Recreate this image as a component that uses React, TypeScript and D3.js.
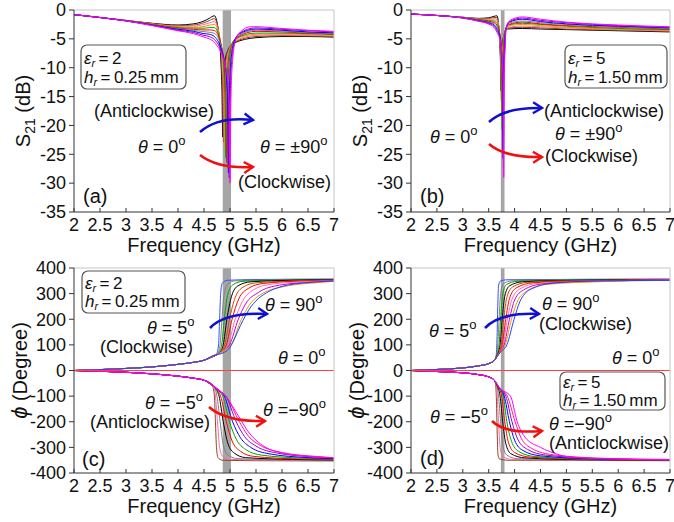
import React from "react";
import * as d3 from "d3";

type Pt = [number, number];

const freqTicks = [2, 2.5, 3, 3.5, 4, 4.5, 5, 5.5, 6, 6.5, 7];
const s21Ticks = [0, -5, -10, -15, -20, -25, -30, -35];
const phaseTicks = [400, 300, 200, 100, 0, -100, -200, -300, -400];

// theta = 0,10,...,90 deg
const s21Colors = ["#000000", "#8b4513", "#ff69b4", "#ff8c00", "#00a000", "#ff0000", "#808080", "#0000ff", "#9400d3", "#ff00ff"];
// theta = 5 ... 90 (clockwise, upper family)
const upColors = ["#3050ff", "#808080", "#00a000", "#000000", "#c05000", "#ff0000", "#ff69b4", "#cc00cc", "#e0a000", "#2040ff"];
// theta = -5 ... -90 (anticlockwise, lower family)
const lowColors = ["#8b4513", "#ff69b4", "#808080", "#000000", "#ff0000", "#00a000", "#0000ff", "#9400d3", "#ff1493", "#ff00ff"];

// (a) S21, er=2, hr=0.25mm
const s21A: Pt[][] = [
  [[2,-0.8],[2.5,-1.3],[3,-1.8],[3.5,-2.3],[4,-2.6],[4.3,-2.4],[4.5,-1.9],[4.6,-1.45],[4.7,-1.0],[4.79,-4.5],[4.825,-9],[4.845,-14],[4.86,-22],[4.875,-14],[4.9,-9],[4.96,-7],[5.06,-5.8],[5.5,-4.8],[6,-4.6],[6.5,-4.6],[7,-4.7]],
  [[2,-0.8],[2.5,-1.3],[3,-1.81],[3.5,-2.35],[4,-2.7],[4.3,-2.6],[4.5,-2.2],[4.6,-1.85],[4.7,-1.5],[4.805,-5.2],[4.84,-9.4],[4.86,-14.3],[4.875,-22.9],[4.89,-14.3],[4.915,-9.1],[4.975,-6.8],[5.075,-5.6],[5.5,-4.6],[6,-4.45],[6.5,-4.5],[7,-4.6]],
  [[2,-0.8],[2.5,-1.3],[3,-1.82],[3.5,-2.4],[4,-2.8],[4.3,-2.8],[4.5,-2.5],[4.6,-2.25],[4.7,-2.0],[4.82,-5.8],[4.855,-9.9],[4.875,-14.7],[4.89,-23.8],[4.905,-14.7],[4.93,-9.2],[4.99,-6.7],[5.09,-5.4],[5.5,-4.4],[6,-4.3],[6.5,-4.35],[7,-4.5]],
  [[2,-0.8],[2.5,-1.3],[3,-1.83],[3.5,-2.45],[4,-2.9],[4.3,-3.0],[4.5,-2.85],[4.6,-2.65],[4.7,-2.5],[4.835,-6.5],[4.87,-10.3],[4.89,-15],[4.905,-24.7],[4.92,-15],[4.945,-9.3],[5.005,-6.5],[5.105,-5.1],[5.5,-4.2],[6,-4.15],[6.5,-4.25],[7,-4.4]],
  [[2,-0.8],[2.5,-1.3],[3,-1.84],[3.5,-2.5],[4,-3.05],[4.3,-3.15],[4.5,-3.15],[4.6,-3.05],[4.7,-3.05],[4.85,-7.2],[4.885,-10.8],[4.905,-15.3],[4.92,-25.6],[4.935,-15.3],[4.96,-9.4],[5.02,-6.3],[5.12,-4.9],[5.5,-4.0],[6,-4.0],[6.5,-4.1],[7,-4.25]],
  [[2,-0.8],[2.5,-1.3],[3,-1.85],[3.5,-2.5],[4,-3.15],[4.3,-3.35],[4.5,-3.45],[4.6,-3.45],[4.7,-3.55],[4.87,-7.8],[4.905,-11.2],[4.925,-15.7],[4.94,-26.4],[4.955,-15.7],[4.98,-9.6],[5.04,-6.2],[5.14,-4.7],[5.5,-3.7],[6,-3.8],[6.5,-4.0],[7,-4.15]],
  [[2,-0.8],[2.5,-1.3],[3,-1.87],[3.5,-2.55],[4,-3.25],[4.3,-3.55],[4.5,-3.75],[4.6,-3.85],[4.7,-4.05],[4.885,-8.5],[4.92,-11.7],[4.94,-16],[4.955,-27.3],[4.97,-16],[4.995,-9.7],[5.055,-6],[5.155,-4.5],[5.5,-3.5],[6,-3.65],[6.5,-3.9],[7,-4.05]],
  [[2,-0.8],[2.5,-1.3],[3,-1.88],[3.5,-2.6],[4,-3.35],[4.3,-3.7],[4.5,-4.1],[4.6,-4.2],[4.7,-4.6],[4.9,-9.2],[4.935,-12.1],[4.955,-16.3],[4.97,-28.2],[4.985,-16.3],[5.01,-9.8],[5.07,-5.8],[5.17,-4.2],[5.5,-3.3],[6,-3.5],[6.5,-3.8],[7,-3.95]],
  [[2,-0.8],[2.5,-1.3],[3,-1.89],[3.5,-2.65],[4,-3.5],[4.3,-3.9],[4.5,-4.4],[4.6,-4.6],[4.7,-5.1],[4.915,-9.8],[4.95,-12.6],[4.97,-16.7],[4.985,-29.1],[5.0,-16.7],[5.025,-9.9],[5.085,-5.7],[5.185,-4.0],[5.5,-3.1],[6,-3.35],[6.5,-3.6],[7,-3.8]],
  [[2,-0.8],[2.5,-1.3],[3,-1.9],[3.5,-2.7],[4,-3.6],[4.3,-4.1],[4.5,-4.7],[4.6,-5.0],[4.7,-5.6],[4.93,-10.5],[4.965,-13],[4.985,-17],[5.0,-30],[5.015,-17],[5.04,-10],[5.1,-5.5],[5.2,-3.8],[5.4,-2.9],[5.5,-2.9],[6,-3.2],[6.5,-3.5],[7,-3.7]],
];

// (b) S21, er=5, hr=1.50mm
const s21B: Pt[][] = [
  [[2,-0.7],[2.5,-0.95],[3,-1.25],[3.3,-1.45],[3.5,-1.35],[3.6,-1.1],[3.66,-1.0],[3.69,-2.5],[3.715,-6],[3.73,-10],[3.74,-14],[3.75,-9],[3.765,-6],[3.79,-4.5],[3.86,-3.3],[4.15,-3.2],[4.5,-3.3],[5,-3.4],[6,-3.6],[7,-3.8]],
  [[2,-0.7],[2.5,-0.95],[3,-1.27],[3.3,-1.5],[3.5,-1.47],[3.6,-1.31],[3.66,-1.32],[3.695,-2.9],[3.72,-6.3],[3.735,-10.2],[3.745,-15.7],[3.755,-9.2],[3.77,-6.1],[3.795,-4.3],[3.865,-3.1],[4.15,-3.0],[4.5,-3.1],[5,-3.3],[6,-3.5],[7,-3.7]],
  [[2,-0.7],[2.5,-0.95],[3,-1.28],[3.3,-1.56],[3.5,-1.59],[3.6,-1.52],[3.66,-1.64],[3.7,-3.3],[3.725,-6.7],[3.74,-10.4],[3.75,-17.3],[3.76,-9.4],[3.775,-6.2],[3.8,-4.2],[3.87,-3.0],[4.15,-2.8],[4.5,-2.9],[5,-3.1],[6,-3.4],[7,-3.6]],
  [[2,-0.7],[2.5,-0.95],[3,-1.3],[3.3,-1.62],[3.5,-1.72],[3.6,-1.73],[3.66,-1.97],[3.705,-3.7],[3.73,-7],[3.745,-10.7],[3.755,-19],[3.765,-9.7],[3.78,-6.3],[3.805,-4.0],[3.875,-2.8],[4.15,-2.5],[4.5,-2.7],[5,-3.0],[6,-3.3],[7,-3.5]],
  [[2,-0.7],[2.5,-0.95],[3,-1.32],[3.3,-1.67],[3.5,-1.84],[3.6,-1.94],[3.66,-2.29],[3.71,-4.1],[3.735,-7.3],[3.75,-10.9],[3.76,-20.7],[3.77,-9.9],[3.785,-6.4],[3.81,-3.8],[3.88,-2.6],[4.15,-2.3],[4.5,-2.5],[5,-2.8],[6,-3.2],[7,-3.4]],
  [[2,-0.7],[2.5,-0.95],[3,-1.33],[3.3,-1.73],[3.5,-1.96],[3.6,-2.16],[3.66,-2.61],[3.72,-4.4],[3.745,-7.7],[3.76,-11.1],[3.77,-22.3],[3.78,-10.1],[3.795,-6.6],[3.82,-3.7],[3.89,-2.5],[4.15,-2.1],[4.5,-2.4],[5,-2.7],[6,-3.0],[7,-3.3]],
  [[2,-0.7],[2.5,-0.95],[3,-1.35],[3.3,-1.78],[3.5,-2.08],[3.6,-2.37],[3.66,-2.93],[3.725,-4.8],[3.75,-8],[3.765,-11.3],[3.775,-24],[3.785,-10.3],[3.8,-6.7],[3.825,-3.5],[3.895,-2.3],[4.15,-1.9],[4.5,-2.2],[5,-2.5],[6,-2.9],[7,-3.2]],
  [[2,-0.7],[2.5,-0.95],[3,-1.37],[3.3,-1.84],[3.5,-2.2],[3.6,-2.58],[3.66,-3.26],[3.73,-5.2],[3.755,-8.3],[3.77,-11.6],[3.78,-25.7],[3.79,-10.6],[3.805,-6.8],[3.83,-3.3],[3.9,-2.1],[4.15,-1.6],[4.5,-2.0],[5,-2.4],[6,-2.8],[7,-3.1]],
  [[2,-0.7],[2.5,-0.95],[3,-1.38],[3.3,-1.89],[3.5,-2.33],[3.6,-2.79],[3.66,-3.58],[3.735,-5.6],[3.76,-8.7],[3.775,-11.8],[3.785,-27.3],[3.795,-10.8],[3.81,-6.9],[3.835,-3.2],[3.905,-2.0],[4.15,-1.4],[4.5,-1.8],[5,-2.2],[6,-2.7],[7,-3.0]],
  [[2,-0.7],[2.5,-0.95],[3,-1.4],[3.3,-1.95],[3.5,-2.45],[3.6,-3.0],[3.66,-3.9],[3.74,-6],[3.765,-9],[3.78,-12],[3.79,-29],[3.8,-11],[3.815,-7],[3.84,-3],[3.91,-1.8],[4.15,-1.2],[4.5,-1.6],[5,-2.1],[6,-2.6],[7,-2.9]],
];

// (c) phase, er=2
const preCUp: Pt[] = [[2,0],[3,8],[3.5,14],[4,24],[4.3,32],[4.5,40]];
const phaseCUp: Pt[][] = [
  [...preCUp,[4.65,52],[4.74,64],[4.78,100],[4.8,200],[4.82,300],[4.85,340],[4.95,352],[5.5,355],[7,357]],
  [...preCUp,[4.65,52],[4.76,66],[4.81,100],[4.845,200],[4.89,300],[4.96,338],[5.1,350],[6,354],[7,356]],
  [...preCUp,[4.65,52],[4.78,68],[4.84,100],[4.89,200],[4.96,300],[5.06,335],[5.25,348],[6,353],[7,355]],
  [...preCUp,[4.65,53],[4.8,70],[4.87,100],[4.94,200],[5.03,290],[5.15,330],[5.4,346],[6.2,352],[7,354]],
  [...preCUp,[4.65,53],[4.82,72],[4.9,100],[4.99,200],[5.1,285],[5.25,325],[5.5,342],[6.3,350],[7,353]],
  [...preCUp,[4.65,54],[4.84,74],[4.93,100],[5.04,200],[5.17,280],[5.35,320],[5.65,340],[6.4,349],[7,352]],
  [...preCUp,[4.65,54],[4.86,76],[4.96,100],[5.1,200],[5.24,270],[5.45,315],[5.8,337],[6.5,347],[7,351]],
  [...preCUp,[4.65,55],[4.88,78],[4.99,100],[5.16,200],[5.3,260],[5.55,305],[5.95,333],[6.6,345],[7,350]],
  [...preCUp,[4.65,55],[4.9,80],[5.02,100],[5.22,200],[5.37,255],[5.62,300],[6.1,330],[6.7,343],[7,348]],
  [...preCUp,[4.65,56],[4.9,72],[5.0,90],[5.1,130],[5.2,175],[5.3,215],[5.4,248],[5.5,272],[5.7,303],[6.0,328],[6.5,343],[7,349]],
];
const preCLow: Pt[] = [[2,0],[3,-7],[3.5,-13],[4,-22],[4.3,-30],[4.5,-38]];
const phaseCLow: Pt[][] = [
  [...preCLow,[4.6,-46],[4.66,-58],[4.7,-100],[4.72,-200],[4.74,-300],[4.77,-340],[4.85,-350],[5.5,-352],[7,-353]],
  [...preCLow,[4.6,-46],[4.68,-62],[4.72,-100],[4.76,-200],[4.8,-300],[4.86,-335],[5.0,-347],[6,-350],[7,-351]],
  [...preCLow,[4.6,-47],[4.7,-66],[4.75,-100],[4.81,-200],[4.87,-290],[4.96,-330],[5.15,-344],[6,-349],[7,-350]],
  [...preCLow,[4.6,-48],[4.72,-70],[4.79,-100],[4.87,-200],[4.96,-285],[5.08,-322],[5.3,-340],[6.2,-347],[7,-349]],
  [...preCLow,[4.6,-48],[4.74,-74],[4.82,-100],[4.93,-200],[5.04,-275],[5.2,-315],[5.45,-335],[6.3,-345],[7,-347]],
  [...preCLow,[4.6,-49],[4.76,-76],[4.86,-100],[4.99,-200],[5.12,-268],[5.3,-308],[5.6,-330],[6.4,-342],[7,-345]],
  [...preCLow,[4.6,-49],[4.78,-78],[4.89,-100],[5.05,-200],[5.2,-262],[5.4,-300],[5.75,-325],[6.5,-340],[7,-344]],
  [...preCLow,[4.6,-50],[4.8,-80],[4.92,-100],[5.12,-200],[5.28,-258],[5.5,-295],[5.9,-322],[6.6,-337],[7,-342]],
  [...preCLow,[4.6,-50],[4.8,-80],[4.93,-103],[5.18,-200],[5.35,-255],[5.58,-292],[6.0,-320],[6.7,-336],[7,-341]],
  [...preCLow,[4.6,-50],[4.7,-62],[4.8,-78],[4.94,-105],[5.05,-140],[5.13,-167],[5.23,-200],[5.33,-233],[5.5,-272],[5.67,-298],[6.0,-322],[6.5,-335],[7,-340]],
];

// (d) phase, er=5
const preDUp: Pt[] = [[2,0],[2.5,4],[3,10],[3.3,18],[3.5,27],[3.6,38]];
const phaseDUp: Pt[][] = [
  [...preDUp,[3.64,52],[3.66,120],[3.675,250],[3.69,330],[3.72,348],[3.85,354],[7,357]],
  [...preDUp,[3.64,54],[3.675,100],[3.7,200],[3.73,300],[3.78,338],[3.95,350],[5,354],[7,356]],
  [...preDUp,[3.65,56],[3.7,100],[3.73,200],[3.77,295],[3.84,335],[4.05,348],[5,353],[7,355]],
  [...preDUp,[3.66,58],[3.72,100],[3.76,200],[3.81,290],[3.9,330],[4.15,346],[5.2,352],[7,355]],
  [...preDUp,[3.67,60],[3.74,100],[3.79,200],[3.85,285],[3.96,326],[4.25,344],[5.3,351],[7,354]],
  [...preDUp,[3.68,62],[3.76,100],[3.83,200],[3.9,280],[4.03,322],[4.35,342],[5.4,350],[7,354]],
  [...preDUp,[3.69,64],[3.78,100],[3.86,200],[3.95,278],[4.1,318],[4.45,340],[5.5,349],[7,353]],
  [...preDUp,[3.7,66],[3.8,100],[3.9,200],[4.0,275],[4.17,314],[4.55,338],[5.6,348],[7,353]],
  [...preDUp,[3.71,68],[3.82,100],[3.94,200],[4.06,272],[4.24,310],[4.62,336],[5.7,347],[7,352]],
  [...preDUp,[3.72,70],[3.85,100],[3.99,200],[4.1,268],[4.2,300],[4.4,325],[4.7,340],[5.5,349],[7,352]],
];
const preDLow: Pt[] = [[2,0],[2.5,-4],[3,-9],[3.3,-16],[3.5,-25],[3.6,-36]];
const phaseDLow: Pt[][] = [
  [...preDLow,[3.63,-50],[3.65,-120],[3.665,-250],[3.68,-330],[3.71,-345],[3.85,-350],[7,-352]],
  [...preDLow,[3.64,-52],[3.665,-100],[3.69,-200],[3.72,-300],[3.77,-335],[3.95,-347],[5,-350],[7,-351]],
  [...preDLow,[3.65,-55],[3.69,-100],[3.73,-200],[3.77,-290],[3.85,-330],[4.05,-344],[5.2,-349],[7,-350]],
  [...preDLow,[3.66,-58],[3.72,-100],[3.77,-200],[3.83,-285],[3.93,-325],[4.2,-341],[5.3,-348],[7,-350]],
  [...preDLow,[3.67,-60],[3.75,-100],[3.81,-200],[3.88,-280],[4.0,-320],[4.3,-338],[5.4,-347],[7,-349]],
  [...preDLow,[3.68,-62],[3.78,-100],[3.85,-200],[3.94,-276],[4.08,-316],[4.4,-336],[5.5,-346],[7,-349]],
  [...preDLow,[3.69,-64],[3.8,-100],[3.9,-200],[4.0,-272],[4.16,-312],[4.5,-333],[5.6,-345],[7,-348]],
  [...preDLow,[3.7,-66],[3.83,-100],[3.95,-200],[4.06,-268],[4.25,-308],[4.6,-330],[5.7,-344],[7,-348]],
  [...preDLow,[3.71,-68],[3.86,-100],[4.01,-200],[4.13,-265],[4.33,-304],[4.75,-329],[5.8,-343],[7,-347]],
  [...preDLow,[3.72,-70],[3.92,-100],[4.05,-200],[4.2,-260],[4.5,-300],[4.8,-325],[5.07,-338],[6,-346],[7,-349]],
];

const zeroLine: Pt[] = [[2, 0], [7, 0]];
const bandA: [number, number] = [4.86, 5.02];
const bandB: [number, number] = [3.735, 3.805];

const FONT = "'Liberation Sans', Arial, Helvetica, sans-serif";

type Series = { pts: Pt[]; color: string };

function Panel(props: {
  id: string; left: number; right: number; top: number; bottom: number;
  yDomain: [number, number]; yTicks: number[]; series: Series[]; band: [number, number];
  kind: "s21" | "phase";
}) {
  const { id, left, right, top, bottom, yDomain, yTicks, series, band, kind } = props;
  const x = d3.scaleLinear().domain([2, 7]).range([left, right]);
  const y = d3.scaleLinear().domain(yDomain).range([bottom, top]);
  const line = d3.line<Pt>().x((d) => x(d[0])).y((d) => y(d[1])).curve(d3.curveMonotoneX);
  const cy = (top + bottom) / 2;
  return (
    <g>
      <defs>
        <clipPath id={`clip-${id}`}>
          <rect x={left} y={top} width={right - left} height={bottom - top} />
        </clipPath>
      </defs>
      <rect x={x(band[0])} y={top} width={x(band[1]) - x(band[0])} height={bottom - top} fill="#a5a5a5" />
      <g clipPath={`url(#clip-${id})`}>
        {series.map((s, i) => (
          <path key={i} d={line(s.pts) || ""} fill="none" stroke={s.color} strokeWidth={1} />
        ))}
      </g>
      <line x1={left} x2={right} y1={top} y2={top} stroke="#c4c4c4" strokeWidth={1} />
      <line x1={right} x2={right} y1={top} y2={bottom} stroke="#c4c4c4" strokeWidth={1} />
      <line x1={left} x2={left} y1={top} y2={bottom} stroke="#333" strokeWidth={1} />
      <line x1={left} x2={right} y1={bottom} y2={bottom} stroke="#333" strokeWidth={1} />
      {yTicks.map((t) => (
        <g key={t}>
          <line x1={left - 5} x2={left} y1={y(t)} y2={y(t)} stroke="#333" />
          <text x={left - 8} y={y(t)} dy="0.35em" textAnchor="end" fontSize={18} fontFamily={FONT} fill="#111">
            {t}
          </text>
        </g>
      ))}
      {freqTicks.map((t) => (
        <g key={t}>
          <line x1={x(t)} x2={x(t)} y1={bottom} y2={bottom - 4} stroke="#333" />
          <text x={x(t)} y={bottom + 19} textAnchor="middle" fontSize={18} fontFamily={FONT} fill="#111">
            {t}
          </text>
        </g>
      ))}
      <text x={(left + right) / 2} y={bottom + 40} textAnchor="middle" fontSize={20} fontFamily={FONT} fill="#111">
        Frequency (GHz)
      </text>
      {kind === "s21" ? (
        <text transform={`translate(${left - 44},${cy}) rotate(-90)`} textAnchor="middle" fontSize={20} fontFamily={FONT} fill="#111">
          S<tspan dy={5} fontSize={14}>21</tspan>
          <tspan dy={-5}> (dB)</tspan>
        </text>
      ) : (
        <text transform={`translate(${left - 47},${cy}) rotate(-90)`} textAnchor="middle" fontSize={20} fontFamily={FONT} fill="#111">
          <tspan fontStyle="italic" fontSize={22}>ϕ</tspan> (Degree)
        </text>
      )}
    </g>
  );
}

function Th(props: { x: number; y: number; val: string; eq?: string }) {
  const { x, y, val, eq = " = " } = props;
  return (
    <text x={x} y={y} fontSize={18} fontFamily={FONT} fill="#111" style={{ whiteSpace: "pre" }}>
      <tspan fontStyle="italic">θ</tspan>
      {eq + val}
      <tspan dy={-8} fontSize={13}>o</tspan>
    </text>
  );
}

function T(props: { x: number; y: number; children: React.ReactNode; size?: number }) {
  return (
    <text x={props.x} y={props.y} fontSize={props.size || 18} fontFamily={FONT} fill="#111">
      {props.children}
    </text>
  );
}

function ParamBox(props: { x: number; y: number; w: number; h: number; eps: string; hr: string; b1: number; b2: number }) {
  const { x, y, w, h, eps, hr, b1, b2 } = props;
  return (
    <g>
      <rect x={x} y={y} width={w} height={h} rx={6} fill="#fff" stroke="#555" strokeWidth={1.2} />
      <text x={x + 3} y={y + b1} fontSize={17} fontFamily={FONT} fill="#111">
        <tspan fontStyle="italic">ε</tspan>
        <tspan fontStyle="italic" fontSize={11} dy={3}>r</tspan>
        <tspan dy={-3}>{"\u2009=\u2009" + eps}</tspan>
      </text>
      <text x={x + 3} y={y + b2} fontSize={17} fontFamily={FONT} fill="#111">
        <tspan fontStyle="italic">h</tspan>
        <tspan fontStyle="italic" fontSize={11} dy={3}>r</tspan>
        <tspan dy={-3}>{"\u2009=\u2009" + hr + "\u2009mm"}</tspan>
      </text>
    </g>
  );
}

function Arrow(props: { d: string; color: string; id: string }) {
  return <path d={props.d} fill="none" stroke={props.color} strokeWidth={2.6} markerEnd={`url(#${props.id})`} />;
}

const BLUE = "#1010d0";
const RED = "#f01010";

export default function App() {
  const mk = (arr: Pt[][], cols: string[]) => arr.map((pts, i) => ({ pts, color: cols[i] }));
  const s21ASeries = mk(s21A, s21Colors);
  const s21BSeries = mk(s21B, s21Colors);
  const zeroSeries = { pts: zeroLine, color: "#ff4040" };
  const cSeries = [...mk(phaseCUp, upColors), ...mk(phaseCLow, lowColors), zeroSeries];
  const dSeries = [...mk(phaseDUp, upColors), ...mk(phaseDLow, lowColors), zeroSeries];

  return (
    <svg width={674} height={522} style={{ position: "absolute", left: 0, top: 0, background: "#fff" }}>
      <defs>
        {[["ab", BLUE], ["ar", RED]].map(([id, c]) => (
          <marker key={id} id={id} markerWidth={14} markerHeight={14} refX={11} refY={7} orient="auto" markerUnits="userSpaceOnUse">
            <path d="M2,1.5 L11,7 L2,12.5" fill="none" stroke={c} strokeWidth={2.4} strokeLinejoin="miter" />
          </marker>
        ))}
      </defs>
      <Panel id="a" left={74} right={334} top={10} bottom={212} yDomain={[-35, 0]} yTicks={s21Ticks} series={s21ASeries} band={bandA} kind="s21" />
      <Panel id="b" left={411} right={670} top={10} bottom={212} yDomain={[-35, 0]} yTicks={s21Ticks} series={s21BSeries} band={bandB} kind="s21" />
      <Panel id="c" left={74} right={334} top={268} bottom={473} yDomain={[-400, 400]} yTicks={phaseTicks} series={cSeries} band={bandA} kind="phase" />
      <Panel id="d" left={411} right={670} top={268} bottom={473} yDomain={[-400, 400]} yTicks={phaseTicks} series={dSeries} band={bandB} kind="phase" />

      {/* (a) */}
      <ParamBox x={81} y={45} w={105} h={44} eps="2" hr="0.25" b1={19} b2={38} />
      <T x={94} y={117}>(Anticlockwise)</T>
      <Th x={138} y={153} val="0" />
      <Th x={260} y={153} val="±90" />
      <T x={238} y={188}>(Clockwise)</T>
      <T x={83} y={203} size={20}>(a)</T>
      <Arrow id="ab" color={BLUE} d="M200,132 Q218,116 253,120" />
      <Arrow id="ar" color={RED} d="M200,155 Q218,169 253,167" />

      {/* (b) */}
      <ParamBox x={565} y={45} w={102} h={43} eps="5" hr="1.50" b1={19} b2={38} />
      <T x={544} y={117}>(Anticlockwise)</T>
      <Th x={430} y={143} val="0" />
      <Th x={555} y={140} val="±90" />
      <T x={545} y={162}>(Clockwise)</T>
      <T x={420} y={203} size={20}>(b)</T>
      <Arrow id="ab" color={BLUE} d="M489,122 Q505,107 542,108" />
      <Arrow id="ar" color={RED} d="M489,144 Q505,158 542,157" />

      {/* (c) */}
      <ParamBox x={82} y={271} w={103} h={42} eps="2" hr="0.25" b1={18} b2={36} />
      <Th x={147} y={334} val="5" />
      <T x={100} y={353}>(Clockwise)</T>
      <Th x={265} y={311} val="90" />
      <Th x={278} y={364} val="0" />
      <Th x={145} y={409} val="−5" />
      <T x={90} y={428}>(Anticlockwise)</T>
      <Th x={263} y={416} val="−90" eq=" =" />
      <T x={82} y={466} size={20}>(c)</T>
      <Arrow id="ab" color={BLUE} d="M210,328 Q225,312 267,314" />
      <Arrow id="ar" color={RED} d="M209,407 Q226,422 265,421" />

      {/* (d) */}
      <ParamBox x={560} y={372} w={105} h={38} eps="5" hr="1.50" b1={16} b2={34} />
      <Th x={429} y={337} val="5" />
      <Th x={542} y={310} val="90" />
      <T x={539} y={330}>(Clockwise)</T>
      <Th x={612} y={364} val="0" />
      <Th x={430} y={423} val="−5" />
      <Th x={549} y={430} val="−90" eq=" =" />
      <T x={549} y={449}>(Anticlockwise)</T>
      <T x={420} y={465} size={20}>(d)</T>
      <Arrow id="ab" color={BLUE} d="M485,328 Q500,312 539,314" />
      <Arrow id="ar" color={RED} d="M492,421 Q505,434 542,431" />
    </svg>
  );
}
